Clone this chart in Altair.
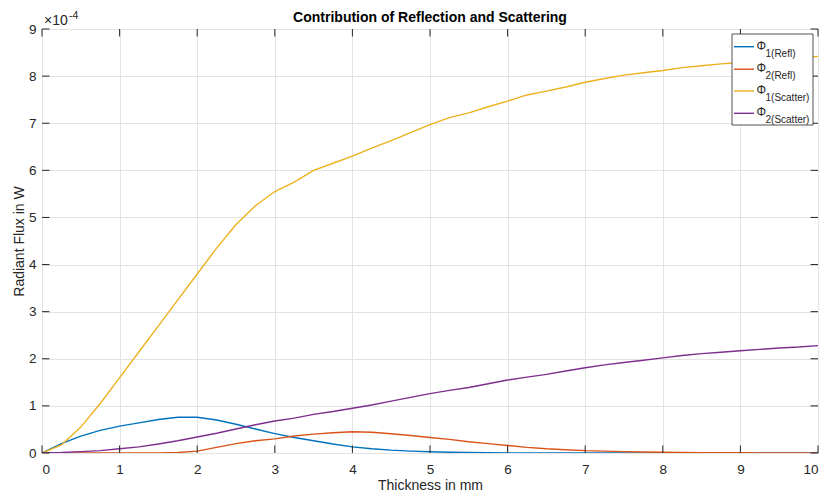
import altair as alt
import pandas as pd

# thickness in mm
thickness = [i * 0.25 for i in range(41)]

# radiant flux values in units of 1e-4 W
refl1 = [0, 0.2, 0.36, 0.48, 0.57, 0.64, 0.71, 0.76, 0.76, 0.70, 0.61, 0.51, 0.41,
         0.33, 0.26, 0.19, 0.13, 0.09, 0.06, 0.04, 0.025, 0.015, 0.01, 0.005, 0.003,
         0.002, 0.001, 0.001, 0, 0, 0, 0, 0, 0, 0, 0, 0, 0, 0, 0, 0]
refl2 = [0, 0, 0, 0, 0, 0, 0, 0.01, 0.04, 0.12, 0.2, 0.26, 0.30,
         0.36, 0.40, 0.43, 0.45, 0.44, 0.41, 0.37, 0.33, 0.29, 0.24, 0.2, 0.16,
         0.12, 0.09, 0.07, 0.05, 0.04, 0.03, 0.02, 0.015, 0.01, 0.008, 0.005, 0.004,
         0.003, 0.002, 0.001, 0]
scatter1 = [0, 0.17, 0.55, 1.05, 1.6, 2.15, 2.7, 3.25, 3.8, 4.35, 4.85, 5.25, 5.55,
            5.75, 6.0, 6.15, 6.3, 6.47, 6.63, 6.8, 6.97, 7.12, 7.22, 7.35, 7.47,
            7.6, 7.68, 7.77, 7.87, 7.95, 8.02, 8.07, 8.12, 8.18, 8.22, 8.26, 8.29,
            8.32, 8.35, 8.38, 8.42]
scatter2 = [0, 0.01, 0.03, 0.05, 0.09, 0.13, 0.19, 0.26, 0.34, 0.42, 0.51, 0.6, 0.68,
            0.74, 0.82, 0.88, 0.95, 1.02, 1.1, 1.18, 1.26, 1.33, 1.39, 1.47, 1.55,
            1.61, 1.67, 1.74, 1.81, 1.87, 1.92, 1.97, 2.02, 2.07, 2.11, 2.14, 2.17,
            2.2, 2.23, 2.25, 2.28]

series_names = ["Refl1", "Refl2", "Scatter1", "Scatter2"]
series_values = [refl1, refl2, scatter1, scatter2]
series_colors = ["#0072BD", "#D95319", "#EDB120", "#7E2F8E"]
legend_main = ["Φ", "Φ", "Φ", "Φ"]
legend_sub = ["1(Refl)", "2(Refl)", "1(Scatter)", "2(Scatter)"]
title_text = "Contribution of Reflection and Scattering"

x_ticks = list(range(0, 11))
y_ticks = list(range(0, 10))

W, H = 776, 424
FONT = "Liberation Sans"
TXT = "#262626"

x_scale = alt.Scale(domain=[0, 10], nice=False, zero=False)
y_scale = alt.Scale(domain=[0, 9], nice=False, zero=False)

x_axis = alt.Axis(values=x_ticks, format="d", grid=True, ticks=False, domain=False,
                  labelFontSize=13.5, labelColor=TXT, labelFont=FONT, labelPadding=9,
                  title="Thickness in mm", titleFontSize=14, titleFontWeight="normal",
                  titleColor=TXT, titleFont=FONT, titlePadding=3,
                  gridColor="#e3e3e3", gridWidth=1)
y_axis = alt.Axis(values=y_ticks, format="d", grid=True, ticks=False, domain=False,
                  labelFontSize=13.5, labelColor=TXT, labelFont=FONT, labelPadding=6,
                  title="Radiant Flux in W", titleFontSize=14, titleFontWeight="normal",
                  titleColor=TXT, titleFont=FONT, titlePadding=2,
                  gridColor="#e3e3e3", gridWidth=1)

one = pd.DataFrame({"k": [0]})

layers = []
for name, vals, col in zip(series_names, series_values, series_colors):
    df = pd.DataFrame({"x": thickness, "y": vals})
    layers.append(
        alt.Chart(df).mark_line(color=col, strokeWidth=1.4, clip=True).encode(
            x=alt.X("x:Q", scale=x_scale, axis=x_axis),
            y=alt.Y("y:Q", scale=y_scale, axis=y_axis),
        )
    )

# inward ticks (MATLAB style) on all four sides
xt = pd.DataFrame({"x": x_ticks})
yt = pd.DataFrame({"y": y_ticks})
TL = 7.5
for y0, y1 in [(H, H - TL), (0, TL)]:
    layers.append(alt.Chart(xt).mark_rule(color=TXT, strokeWidth=1).encode(
        x=alt.X("x:Q", scale=x_scale, axis=x_axis),
        y=alt.value(y0), y2=alt.value(y1)))
for x0, x1 in [(0, TL), (W, W - TL)]:
    layers.append(alt.Chart(yt).mark_rule(color=TXT, strokeWidth=1).encode(
        y=alt.Y("y:Q", scale=y_scale, axis=y_axis),
        x=alt.value(x0), x2=alt.value(x1)))

# title
layers.append(alt.Chart(one).mark_text(text=title_text, fontSize=14, fontWeight="bold",
                                       font=FONT, color="#000000", align="center",
                                       baseline="alphabetic").encode(
    x=alt.value(W / 2), y=alt.value(-7)))

# exponent label
layers.append(alt.Chart(one).mark_text(text="×10", fontSize=14, font=FONT, color=TXT,
                                       align="left", baseline="alphabetic").encode(
    x=alt.value(2), y=alt.value(-4)))
layers.append(alt.Chart(one).mark_text(text="-4", fontSize=10.5, font=FONT, color=TXT,
                                       align="left", baseline="alphabetic").encode(
    x=alt.value(27), y=alt.value(-10)))

# legend
LX0, LX1, LY0, LY1 = 690, 771, 5, 96
layers.append(alt.Chart(one).mark_rect(fill="white", stroke=TXT, strokeWidth=0.8).encode(
    x=alt.value(LX0), x2=alt.value(LX1), y=alt.value(LY0), y2=alt.value(LY1)))
row_y = [17.7, 40.2, 62.0, 84.3]
for ry, col, m, s in zip(row_y, series_colors, legend_main, legend_sub):
    layers.append(alt.Chart(one).mark_rule(color=col, strokeWidth=1.4).encode(
        x=alt.value(692), x2=alt.value(712), y=alt.value(ry)))
    layers.append(alt.Chart(one).mark_text(text=m, fontSize=12, font=FONT, color=TXT,
                                           align="left", baseline="alphabetic").encode(
        x=alt.value(714.5), y=alt.value(ry + 3)))
    layers.append(alt.Chart(one).mark_text(text=s, fontSize=10, font=FONT, color=TXT,
                                           align="left", baseline="alphabetic").encode(
        x=alt.value(723.5), y=alt.value(ry + 10)))

chart = alt.layer(*layers).properties(
    width=W, height=H,
    autosize=alt.AutoSizeParams(type="none"),
    padding={"left": 42, "top": 29, "right": 8, "bottom": 40},
).configure_view(stroke=TXT, strokeWidth=1).configure(background="white")

chart.save("out.html", embed_options={"renderer": "svg", "actions": False})
